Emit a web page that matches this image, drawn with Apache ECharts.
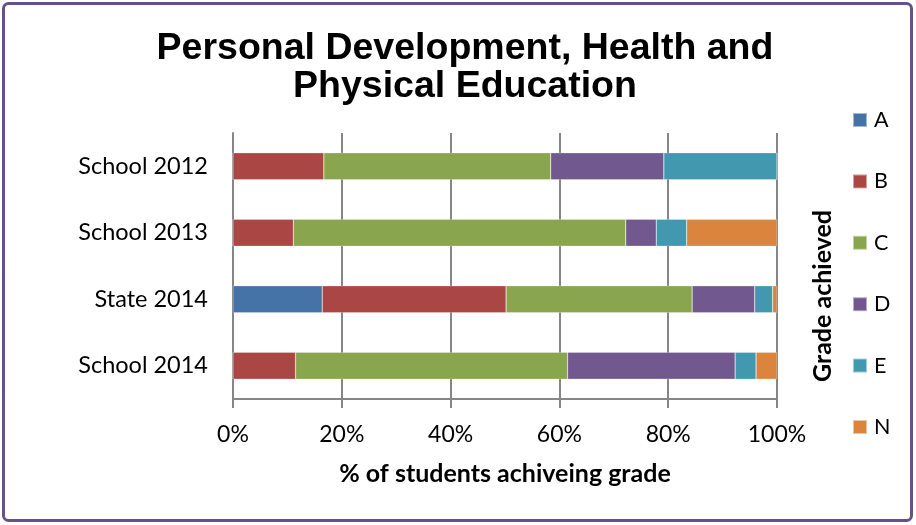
<!DOCTYPE html>
<html>
<head>
<meta charset="utf-8">
<script src="https://cdn.jsdelivr.net/npm/echarts@6/dist/echarts.min.js"></script>
<style>
html,body{margin:0;padding:0;background:#fff;}
#chart{width:916px;height:525px;}
</style>
</head>
<body>
<div id="chart"></div>
<script>
var categories = ['School 2012', 'School 2013', 'State 2014', 'School 2014'];
var grades = ['A', 'B', 'C', 'D', 'E', 'N'];
var gradeA = [0, 0, 16.4, 0];
var gradeB = [16.7, 11.1, 33.8, 11.5];
var gradeC = [41.7, 61.1, 34.2, 50.0];
var gradeD = [20.8, 5.6, 11.5, 30.8];
var gradeE = [20.8, 5.6, 3.3, 3.85];
var gradeN = [0, 16.6, 0.8, 3.85];
var xTicks = ['0%', '20%', '40%', '60%', '80%', '100%'];

var colors = ['#4572A7', '#AA4643', '#89A54E', '#71588F', '#4198AF', '#DB843D'];
var seriesData = [gradeA, gradeB, gradeC, gradeD, gradeE, gradeN];
var font = 'Lato, "Open Sans", sans-serif';

var chart = echarts.init(document.getElementById('chart'));
chart.setOption({
  animation: false,
  color: colors,
  title: {
    text: 'Personal Development, Health and\nPhysical Education',
    left: 460,
    textAlign: 'center',
    top: 25,
    textStyle: {
      fontFamily: '"Liberation Sans", Arial, sans-serif',
      fontWeight: 'bold',
      fontSize: 37.5,
      lineHeight: 38,
      color: '#000'
    }
  },
  legend: {
    orient: 'vertical',
    left: 852,
    top: 109,
    padding: 0,
    itemWidth: 14,
    itemHeight: 14,
    itemGap: 39.4,
    icon: 'rect',
    data: grades,
    textStyle: { fontFamily: font, fontSize: 21.5, lineHeight: 22, color: '#000', padding: [0, 0, 0, 2] }
  },
  grid: { left: 233, right: 139, top: 133, bottom: 126 },
  xAxis: {
    type: 'value',
    min: 0,
    max: 100,
    interval: 20,
    name: '% of students achiveing grade',
    nameLocation: 'middle',
    nameGap: 62,
    nameTextStyle: { fontFamily: font, fontSize: 25, fontWeight: 'bold', color: '#000' },
    axisLine: { show: true, lineStyle: { color: '#868686', width: 2 } },
    axisTick: { show: true, length: 9, lineStyle: { color: '#868686', width: 2 } },
    splitLine: { show: true, lineStyle: { color: '#868686', width: 2 } },
    axisLabel: {
      margin: 24,
      fontFamily: font,
      fontSize: 23,
      color: '#000',
      formatter: function (v) { return xTicks[Math.round(v / 20)]; }
    }
  },
  yAxis: {
    type: 'category',
    inverse: true,
    data: categories,
    axisLine: { show: true, lineStyle: { color: '#868686', width: 2 } },
    axisTick: { show: false },
    axisLabel: { margin: 25, fontFamily: font, fontSize: 23.5, color: '#000' }
  },
  series: grades.map(function (g, i) {
    return {
      name: g,
      type: 'bar',
      stack: 'total',
      barWidth: 27,
      data: seriesData[i],
      itemStyle: { borderColor: 'rgba(255,255,255,0.5)', borderWidth: 0.5 }
    };
  }),
  graphic: [
    {
      type: 'text',
      left: 810,
      top: 210,
      rotation: Math.PI / 2,
      style: {
        text: 'Grade achieved',
        fontFamily: font,
        fontSize: 25,
        fontWeight: 'bold',
        fill: '#000'
      }
    },
    {
      type: 'rect',
      shape: { x: 3.5, y: 3.5, width: 908, height: 517, r: 5 },
      style: { fill: 'none', stroke: '#66528A', lineWidth: 3 },
      silent: true
    }
  ]
});
</script>
</body>
</html>
